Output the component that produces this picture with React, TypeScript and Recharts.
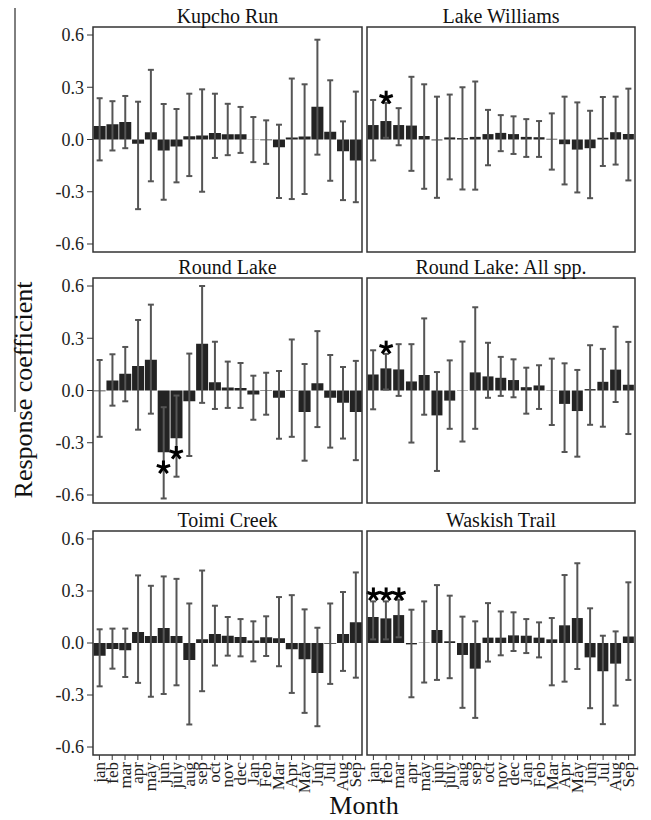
import React from 'react';
import {
  ComposedChart,
  Bar,
  ErrorBar,
  Scatter,
  XAxis,
  YAxis,
  CartesianGrid,
} from 'recharts';

// x categories: two seasons of months
const months = [
  'jan', 'feb', 'mar', 'apr', 'may', 'jun', 'july', 'aug', 'sep', 'oct', 'nov', 'dec',
  'Jan', 'Feb', 'Mar', 'Apr', 'May', 'Jun', 'Jul', 'Aug', 'Sep',
];
const yTicks = [-0.6, -0.3, 0, 0.3, 0.6];
const gridValues = [-0.45, -0.15, 0.15, 0.45];

// Kupcho Run
const kupchoVal = [0.077, 0.087, 0.1, -0.025, 0.042, -0.063, -0.04, 0.019, 0.023, 0.038, 0.03, 0.03, -0.002, -0.004, -0.045, 0.011, 0.017, 0.188, 0.044, -0.067, -0.12];
const kupchoHi = [0.237, 0.22, 0.25, 0.217, 0.4, 0.204, 0.175, 0.263, 0.288, 0.263, 0.205, 0.187, 0.129, 0.11, 0.085, 0.35, 0.317, 0.573, 0.34, 0.104, 0.275];
const kupchoLo = [-0.12, -0.063, -0.05, -0.4, -0.24, -0.346, -0.246, -0.21, -0.3, -0.106, -0.09, -0.077, -0.13, -0.14, -0.336, -0.342, -0.313, -0.087, -0.237, -0.348, -0.36];
const kupchoStar = [null, null, null, null, null, null, null, null, null, null, null, null, null, null, null, null, null, null, null, null, null];

// Lake Williams
const williamsVal = [0.083, 0.106, 0.083, 0.08, 0.02, -0.005, 0.012, 0.008, 0.015, 0.031, 0.038, 0.031, 0.015, 0.013, 0.004, -0.027, -0.058, -0.05, 0.01, 0.042, 0.031];
const williamsHi = [0.227, 0.21, 0.18, 0.36, 0.317, 0.246, 0.258, 0.3, 0.333, 0.17, 0.14, 0.133, 0.117, 0.106, 0.15, 0.246, 0.213, 0.165, 0.244, 0.246, 0.292];
const williamsLo = [-0.12, 0.01, -0.033, -0.18, -0.283, -0.335, -0.229, -0.287, -0.288, -0.148, -0.067, -0.083, -0.1, -0.1, -0.173, -0.258, -0.304, -0.337, -0.152, -0.144, -0.235];
const williamsStar = [null, 0.24, null, null, null, null, null, null, null, null, null, null, null, null, null, null, null, null, null, null, null];

// Round Lake
const roundVal = [-0.005, 0.058, 0.096, 0.14, 0.177, -0.355, -0.274, -0.062, 0.268, 0.048, 0.017, 0.015, -0.023, -0.003, -0.042, 0.003, -0.123, 0.042, -0.042, -0.071, -0.123];
const roundHi = [0.175, 0.208, 0.25, 0.405, 0.493, -0.096, -0.029, 0.212, 0.6, 0.28, 0.166, 0.158, 0.085, 0.102, 0.112, 0.293, 0.152, 0.341, 0.204, 0.135, 0.17];
const roundLo = [-0.266, -0.087, -0.062, -0.225, -0.133, -0.62, -0.495, -0.376, -0.071, -0.106, -0.1, -0.1, -0.168, -0.139, -0.277, -0.266, -0.403, -0.21, -0.328, -0.276, -0.4];
const roundStar = [null, null, null, null, null, -0.442, -0.359, null, null, null, null, null, null, null, null, null, null, null, null, null, null];

// Round Lake: All spp.
const roundAllVal = [0.092, 0.127, 0.121, 0.052, 0.089, -0.143, -0.058, 0.002, 0.104, 0.081, 0.073, 0.06, 0.019, 0.029, -0.002, -0.077, -0.118, 0.008, 0.05, 0.12, 0.033];
const roundAllHi = [0.231, 0.21, 0.266, 0.266, 0.414, 0.106, 0.173, 0.281, 0.478, 0.274, 0.193, 0.179, 0.131, 0.145, 0.183, 0.156, 0.118, 0.26, 0.239, 0.366, 0.279];
const roundAllLo = [-0.108, 0.006, -0.031, -0.299, -0.139, -0.462, -0.22, -0.293, -0.22, -0.042, -0.031, -0.039, -0.133, -0.106, -0.198, -0.353, -0.38, -0.197, -0.208, -0.066, -0.25];
const roundAllStar = [null, 0.246, null, null, null, null, null, null, null, null, null, null, null, null, null, null, null, null, null, null, null];

// Toimi Creek
const toimiVal = [-0.073, -0.035, -0.042, 0.063, 0.04, 0.086, 0.04, -0.098, 0.021, 0.052, 0.042, 0.035, 0.015, 0.033, 0.027, -0.036, -0.094, -0.173, -0.005, 0.052, 0.119];
const toimiHi = [0.079, 0.083, 0.083, 0.39, 0.33, 0.384, 0.37, 0.228, 0.418, 0.215, 0.15, 0.138, 0.125, 0.154, 0.265, 0.276, 0.194, 0.088, 0.228, 0.294, 0.407];
const toimiLo = [-0.25, -0.148, -0.196, -0.23, -0.31, -0.294, -0.244, -0.47, -0.278, -0.13, -0.073, -0.077, -0.106, -0.075, -0.134, -0.288, -0.403, -0.48, -0.236, -0.161, -0.2];
const toimiStar = [null, null, null, null, null, null, null, null, null, null, null, null, null, null, null, null, null, null, null, null, null];

// Waskish Trail
const waskishVal = [0.15, 0.142, 0.161, -0.008, 0.002, 0.075, 0.01, -0.069, -0.148, 0.031, 0.031, 0.044, 0.042, 0.031, 0.021, 0.102, 0.144, -0.083, -0.163, -0.119, 0.038];
const waskishHi = [0.24, 0.24, 0.25, 0.192, 0.24, 0.334, 0.273, 0.152, 0.125, 0.23, 0.182, 0.177, 0.138, 0.119, 0.144, 0.392, 0.46, 0.2, 0.042, 0.067, 0.35];
const waskishLo = [0.021, 0.021, 0.033, -0.313, -0.228, -0.213, -0.203, -0.374, -0.432, -0.107, -0.071, -0.046, -0.058, -0.083, -0.244, -0.223, -0.15, -0.376, -0.468, -0.361, -0.213];
const waskishStar = [0.28, 0.28, 0.28, null, null, null, null, null, null, null, null, null, null, null, null, null, null, null, null, null, null];

const sites = [
  { name: 'Kupcho Run', val: kupchoVal, hi: kupchoHi, lo: kupchoLo, star: kupchoStar },
  { name: 'Lake Williams', val: williamsVal, hi: williamsHi, lo: williamsLo, star: williamsStar },
  { name: 'Round Lake', val: roundVal, hi: roundHi, lo: roundLo, star: roundStar },
  { name: 'Round Lake: All spp.', val: roundAllVal, hi: roundAllHi, lo: roundAllLo, star: roundAllStar },
  { name: 'Toimi Creek', val: toimiVal, hi: toimiHi, lo: toimiLo, star: toimiStar },
  { name: 'Waskish Trail', val: waskishVal, hi: waskishHi, lo: waskishLo, star: waskishStar },
];

// layout
const FONT = '"Liberation Serif", "Times New Roman", serif';
const PLOT_LEFT = [93, 367];
const PLOT_W = [269, 268];
const PLOT_TOP = [27, 278, 531];
const PLOT_H = [225, 225, 224];
const Y_AXIS_W = 60;
const X_AXIS_H = 66;
const DOMAIN: [number, number] = [-0.646, 0.646];

const Asterisk = (props: any) => {
  const { cx, cy, payload } = props;
  if (!payload || payload.star == null || cx == null || cy == null || isNaN(cy)) return <g />;
  const r = 7;
  const arms = [-90, -18, 54, 126, 198];
  return (
    <g>
      {arms.map((a) => {
        const rad = (a * Math.PI) / 180;
        return (
          <line
            key={a}
            x1={cx}
            y1={cy}
            x2={cx + r * Math.cos(rad)}
            y2={cy + r * Math.sin(rad)}
            stroke="#000"
            strokeWidth={3}
          />
        );
      })}
    </g>
  );
};

const MonthTick = ({ x, y, payload }: any) => (
  <text
    x={x}
    y={y}
    transform={`rotate(-90, ${x}, ${y})`}
    textAnchor="end"
    dominantBaseline="central"
    fontFamily={FONT}
    fontSize={17}
    fill="#222"
  >
    {payload.value}
  </text>
);

const Panel = ({ site, col, row }: any) => {
  const data = months.map((m, i) => ({
    month: m,
    value: site.val[i],
    err: [site.val[i] - site.lo[i], site.hi[i] - site.val[i]],
    star: site.star[i],
  }));
  const isLeft = col === 0;
  const isBottom = row === 2;
  const width = PLOT_W[col] + (isLeft ? Y_AXIS_W : 0);
  const height = PLOT_H[row] + (isBottom ? X_AXIS_H : 0);

  return (
    <div
      style={{
        position: 'absolute',
        left: PLOT_LEFT[col] - (isLeft ? Y_AXIS_W : 0),
        top: PLOT_TOP[row],
      }}
    >
      <ComposedChart
        width={width}
        height={height}
        data={data}
        margin={{ top: 0, right: 0, bottom: 0, left: 0 }}
        barCategoryGap="5%"
      >
        <CartesianGrid
          vertical={false}
          stroke="#ececec"
          horizontalCoordinatesGenerator={({ yAxis }: any) =>
            yAxis && typeof yAxis.scale === 'function' ? gridValues.map((v) => yAxis.scale(v)) : []
          }
        />
        <XAxis
          dataKey="month"
          interval={0}
          hide={!isBottom}
          height={X_AXIS_H}
          tick={<MonthTick />}
          tickSize={5}
          tickMargin={2}
          tickLine={{ stroke: '#333' }}
          axisLine={false}
        />
        <YAxis
          domain={DOMAIN}
          allowDataOverflow
          ticks={yTicks}
          interval={0}
          hide={!isLeft}
          width={Y_AXIS_W}
          tickFormatter={(v: number) => v.toFixed(1)}
          tick={{ fontFamily: FONT, fontSize: 18, fill: '#222' }}
          tickSize={6}
          tickMargin={3}
          tickLine={{ stroke: '#333' }}
          axisLine={false}
        />
        <Bar dataKey="value" fill="#232323" isAnimationActive={false}>
          <ErrorBar
            dataKey="err"
            direction="y"
            width={3}
            stroke="#555"
            strokeWidth={2}
            isAnimationActive={false}
          />
        </Bar>
        <Scatter dataKey="star" shape={<Asterisk />} isAnimationActive={false} />
      </ComposedChart>
    </div>
  );
};

export default function App() {
  return (
    <div style={{ position: 'absolute', left: 0, top: 0, width: 651, height: 820, background: '#fff' }}>
      <style>{'.recharts-surface { overflow: visible; }'}</style>
      {sites.map((site, i) => (
        <Panel key={site.name} site={site} col={i % 2} row={Math.floor(i / 2)} />
      ))}
      <svg
        width={651}
        height={820}
        style={{ position: 'absolute', left: 0, top: 0, pointerEvents: 'none' }}
      >
        {sites.map((site, i) => {
          const col = i % 2;
          const row = Math.floor(i / 2);
          return (
            <g key={site.name}>
              <rect
                x={PLOT_LEFT[col]}
                y={PLOT_TOP[row]}
                width={PLOT_W[col]}
                height={PLOT_H[row]}
                fill="none"
                stroke="#333"
                strokeWidth={1.5}
              />
              <text
                x={PLOT_LEFT[col] + PLOT_W[col] / 2}
                y={PLOT_TOP[row] - 4}
                textAnchor="middle"
                fontFamily={FONT}
                fontSize={20}
                fill="#111"
              >
                {site.name}
              </text>
            </g>
          );
        })}
        <line x1={15} y1={8} x2={15} y2={412} stroke="#000" strokeWidth={1} />
        <text
          x={32}
          y={390}
          transform="rotate(-90, 32, 390)"
          textAnchor="middle"
          fontFamily={FONT}
          fontSize={26}
          fill="#111"
        >
          Response coefficient
        </text>
        <text x={364} y={814} textAnchor="middle" fontFamily={FONT} fontSize={26} fill="#111">
          Month
        </text>
      </svg>
    </div>
  );
}
